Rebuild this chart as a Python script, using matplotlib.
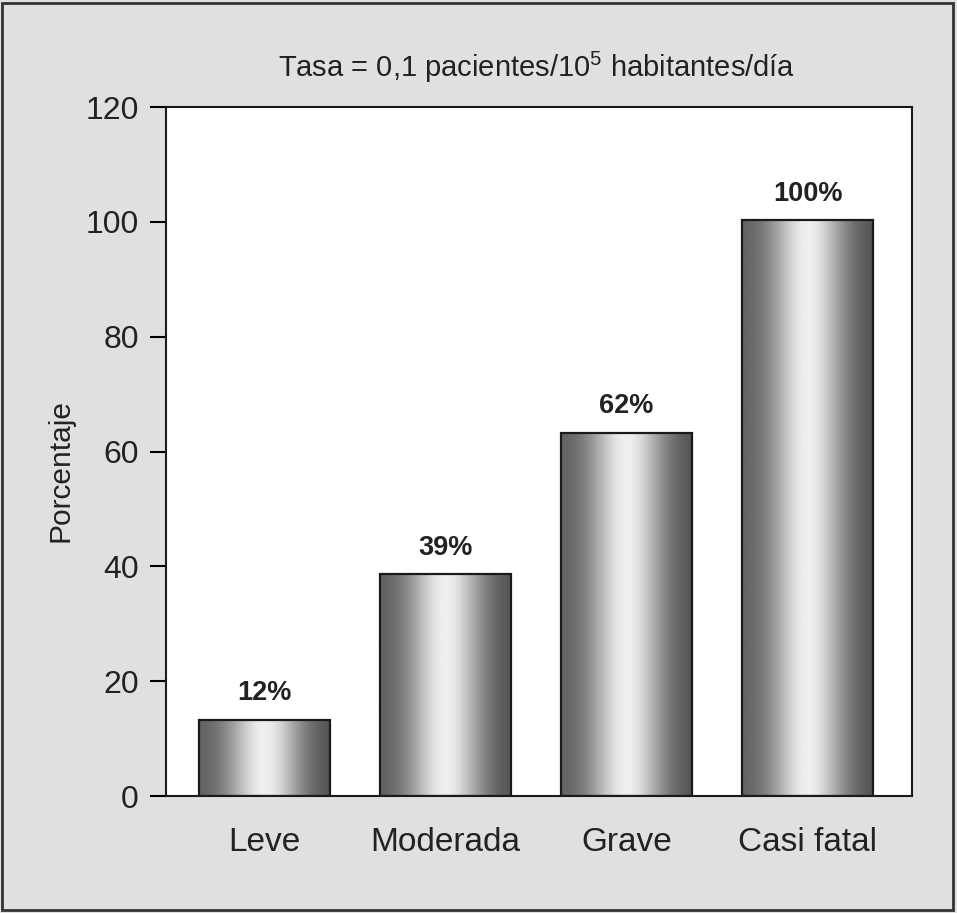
import numpy as np
import matplotlib
matplotlib.use("Agg")
import matplotlib.pyplot as plt
from matplotlib.patches import Rectangle

categorias = ["Leve", "Moderada", "Grave", "Casi fatal"]
alturas = [13.3, 38.7, 63.3, 100.3]
etiquetas = ["12%", "39%", "62%", "100%"]
yticks = [0, 20, 40, 60, 80, 100, 120]

plt.rcParams["font.family"] = ["Liberation Sans", "DejaVu Sans"]
plt.rcParams["mathtext.fontset"] = "custom"
plt.rcParams["mathtext.rm"] = "Liberation Sans"
txt = "#222222"

fig = plt.figure(figsize=(9.57, 9.13), dpi=100, facecolor="#e0e0e0")
ax = fig.add_axes([166/957, 1-796/913, (912-166)/957, (796-107)/913])
ax.set_facecolor("white")

# marco de la figura
fig.patches.append(Rectangle((2/957, 3/913), 951/957, 907/913, transform=fig.transFigure,
                             fill=False, edgecolor="#333333", linewidth=2))

# degradado gris para las barras
t = np.linspace(0, 1, 200)
grad = 0.36 + 0.6 * np.exp(-((t - 0.5) / 0.28) ** 2)
grad = grad - 0.05 * t
grad = np.clip(grad, 0, 1)[None, :]

x = np.arange(len(categorias))
w = 0.724
bars = ax.bar(x, alturas, width=w, color="none", edgecolor="#1a1a1a", linewidth=1.6, zorder=3)
for b in bars:
    x0, y0 = b.get_x(), b.get_y()
    ax.imshow(grad, cmap="gray", vmin=0, vmax=1, aspect="auto",
              extent=[x0, x0 + b.get_width(), y0, y0 + b.get_height()], zorder=2)
for xi, h, lab in zip(x, alturas, etiquetas):
    ax.text(xi, h + 2.3, lab, ha="center", va="bottom", fontsize=19.5, fontweight="bold",
            color=txt)

ax.set_xlim(-0.544, 3.577)
ax.set_ylim(0, 120)
ax.set_yticks(yticks)
ax.set_xticks(x)
ax.set_xticklabels(categorias, fontsize=24, color=txt)
ax.tick_params(axis="y", length=11.5, width=1.5, labelsize=23, labelcolor=txt, pad=8)
ax.tick_params(axis="x", length=0, pad=22)
for s in ax.spines.values():
    s.set_linewidth(1.5)
    s.set_color("#1a1a1a")
ax.set_ylabel("Porcentaje", fontsize=21.5, color=txt)
ax.yaxis.set_label_coords(-0.123, 0.472)

fig.text(537/957, 1-67/913, "Tasa = 0,1 pacientes/10$^5$ habitantes/día", ha="center", va="center",
         fontsize=21, color=txt)

fig.savefig("out.png", dpi=100, facecolor=fig.get_facecolor())
